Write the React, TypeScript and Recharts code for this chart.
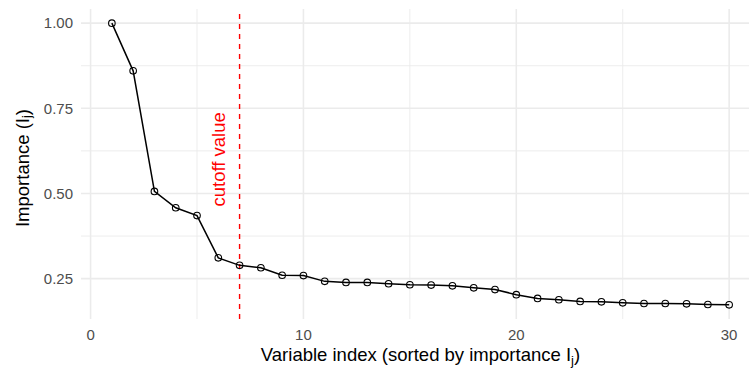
import { ComposedChart, Label, Line, ReferenceDot, ReferenceLine, XAxis, YAxis } from "recharts";

const variableIndex = [
  1, 2, 3, 4, 5, 6, 7, 8, 9, 10, 11, 12, 13, 14, 15, 16, 17, 18, 19, 20, 21, 22, 23, 24, 25, 26, 27, 28, 29, 30,
];
const importance = [
  1.0, 0.86, 0.506, 0.458, 0.435, 0.311, 0.289, 0.282, 0.26, 0.259, 0.242, 0.239, 0.239, 0.235, 0.232, 0.231,
  0.229, 0.223, 0.218, 0.203, 0.192, 0.188, 0.183, 0.182, 0.179, 0.177, 0.177, 0.176, 0.174, 0.173,
];
const xMajorTicks = [0, 10, 20, 30];
const xMinorTicks = [5, 15, 25];
const yMajorTicks = [0.25, 0.5, 0.75, 1.0];
const yMinorTicks = [0.375, 0.625, 0.875];
const cutoff = 7;
const cutoffLabel = { x: 6, y: 0.6, text: "cutoff value" };

const data = variableIndex.map((idx, i) => ({ idx, value: importance[i] }));

const FONT = "'Liberation Sans', Arial, sans-serif";
const GRID = "#EBEBEB";

export default function App() {
  return (
    <div
      style={{
        position: "absolute",
        top: 0,
        left: 0,
        width: 749,
        height: 368,
        overflow: "hidden",
        background: "#fff",
      }}
    >
      <ComposedChart width={760} height={368} data={data} margin={{ top: 9, right: 0, bottom: 0, left: 0 }}>
        <XAxis
          type="number"
          dataKey="idx"
          domain={[-0.45, 31.45]}
          allowDataOverflow
          ticks={xMajorTicks}
          axisLine={false}
          tickLine={false}
          tickSize={0}
          tickMargin={10}
          height={49}
          tick={{ fill: "#4D4D4D", fontSize: 15, fontFamily: FONT }}
        >
          <Label
            content={({ viewBox }: any) => (
              <text
                x={viewBox.x + viewBox.width / 2}
                y={361}
                textAnchor="middle"
                fontFamily={FONT}
                fontSize={18.5}
                fill="#000"
              >
                Variable index (sorted by importance I
                <tspan fontSize={13} dy={4}>j</tspan>
                <tspan dy={-4}>)</tspan>
              </text>
            )}
          />
        </XAxis>
        <YAxis
          type="number"
          domain={[0.1315, 1.0415]}
          allowDataOverflow
          ticks={yMajorTicks}
          tickFormatter={(v: number) => v.toFixed(2)}
          axisLine={false}
          tickLine={false}
          tickSize={0}
          tickMargin={8}
          width={81}
          tick={{ fill: "#4D4D4D", fontSize: 15, fontFamily: FONT }}
        >
          <Label
            content={() => (
              <text
                x={22}
                y={168}
                transform="rotate(-90, 22, 168)"
                textAnchor="middle"
                dominantBaseline="central"
                fontFamily={FONT}
                fontSize={18.5}
                fill="#000"
              >
                Importance (I
                <tspan fontSize={13} dy={4}>j</tspan>
                <tspan dy={-4}>)</tspan>
              </text>
            )}
          />
        </YAxis>
        {yMinorTicks.map((v) => (
          <ReferenceLine key={"ym" + v} y={v} stroke={GRID} strokeWidth={0.9} />
        ))}
        {xMinorTicks.map((v) => (
          <ReferenceLine key={"xm" + v} x={v} stroke={GRID} strokeWidth={0.9} />
        ))}
        {yMajorTicks.map((v) => (
          <ReferenceLine key={"yM" + v} y={v} stroke={GRID} strokeWidth={1.6} />
        ))}
        {xMajorTicks.map((v) => (
          <ReferenceLine key={"xM" + v} x={v} stroke={GRID} strokeWidth={1.6} />
        ))}
        <ReferenceLine x={cutoff} stroke="#FF0000" strokeWidth={1.4} strokeDasharray="5 5" />
        <ReferenceDot
          x={cutoffLabel.x}
          y={cutoffLabel.y}
          r={0}
          fill="none"
          stroke="none"
          label={{
            content: ({ viewBox }: any) => (
              <text
                x={viewBox.x}
                y={viewBox.y}
                transform={`rotate(-90, ${viewBox.x}, ${viewBox.y})`}
                textAnchor="middle"
                dominantBaseline="central"
                fontFamily={FONT}
                fontSize={18.5}
                fill="#FF0000"
              >
                {cutoffLabel.text}
              </text>
            ),
          }}
        />
        <Line
          type="linear"
          dataKey="value"
          stroke="#000"
          strokeWidth={1.5}
          dot={{ r: 3.3, fill: "none", stroke: "#000", strokeWidth: 1.1 }}
          activeDot={false}
          isAnimationActive={false}
        />
      </ComposedChart>
    </div>
  );
}
